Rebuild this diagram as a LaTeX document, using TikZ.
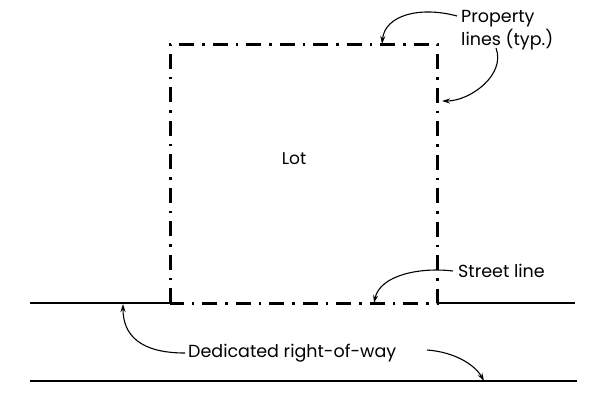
\documentclass[tikz,border=0pt]{standalone}
\usepackage{fontspec}
\setmainfont{Poppins}
\usetikzlibrary{arrows.meta}
\begin{document}
\begin{tikzpicture}[x=1pt,y=-1pt,
  propline/.style={line width=3pt,dash pattern=on 15pt off 8pt on 2.5pt off 8pt},
  streetedge/.style={line width=2.6pt},
  leader/.style={line width=1.1pt,-{Stealth[length=8pt,width=5pt]}},
  lbl/.style={font=\fontsize{17.5}{23}\selectfont,inner sep=0pt,anchor=west,align=left},
  lotlbl/.style={font=\fontsize{17}{20}\selectfont,inner sep=0pt}]
\useasboundingbox (0,0) rectangle (609,402);
% lot corners
\coordinate (bl) at (170,303);
\coordinate (tl) at (170,44);
\coordinate (tr) at (437,44);
\coordinate (br) at (437,303);
\coordinate (sl) at (30,303);
\coordinate (sr) at (575,303);
\coordinate (rl) at (30,381);
\coordinate (rr) at (577,381);
\draw[propline] (bl) -- (tl) -- (tr) -- (br) -- (bl);
\draw[streetedge] (sl) -- (bl);
\draw[streetedge] (br) -- (sr);
\draw[streetedge] (rl) -- (rr);
\node[lotlbl] (lot) at (294,159) {Lot};
\node[lbl] (prop) at (461,30) {Property\\lines (typ.)};
\node[lbl] (street) at (458,271) {Street line};
\node[lbl] (row) at (188,353) {Dedicated right-of-way};
\coordinate (a1) at (382,44);
\coordinate (a2) at (442,101);
\coordinate (a3) at (374,303);
\coordinate (a4) at (123,304);
\coordinate (a5) at (484,381);
\coordinate (s1) at (457,16);
\coordinate (s2) at (496,48);
\coordinate (s3) at (453,271);
\coordinate (s4) at (185,353);
\coordinate (s5) at (427,350);
\draw[leader] (s1) .. controls (420,6) and (385,15) .. (a1);
\draw[leader] (s2) .. controls (506,75) and (470,101) .. (a2);
\draw[leader] (s3) .. controls (420,267) and (380,275) .. (a3);
\draw[leader] (s4) .. controls (140,353) and (123,335) .. (a4);
\draw[leader] (s5) .. controls (455,352) and (475,365) .. (a5);
\end{tikzpicture}
\end{document}
